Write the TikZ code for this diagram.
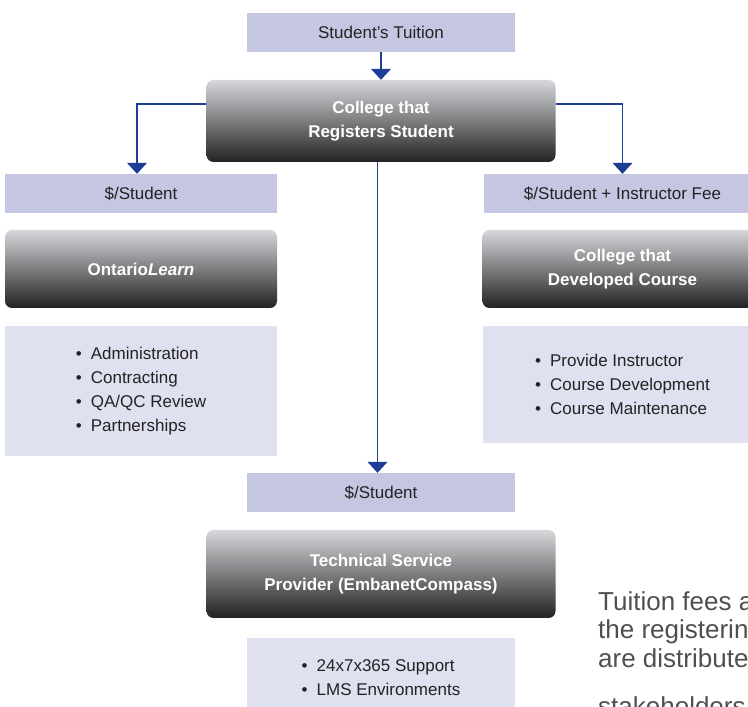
\documentclass[tikz,border=0pt]{standalone}
\usepackage{fontspec}
\setmainfont{Liberation Sans}
\usetikzlibrary{positioning,arrows.meta}

\definecolor{feebox}{RGB}{197,198,226}
\definecolor{listbox}{RGB}{223,224,240}
\definecolor{flowblue}{RGB}{30,62,150}
\definecolor{boxtop}{RGB}{214,215,218}
\definecolor{boxbot}{RGB}{34,34,36}
\definecolor{ink}{RGB}{35,35,35}

\begin{document}
\begin{tikzpicture}[x=1pt,y=1pt,on grid,
   font=\fontsize{17}{24}\selectfont,
   fee/.style={rectangle, fill=feebox, text=ink, minimum height=39pt, inner sep=0pt},
   party/.style={rectangle, rounded corners=7pt, top color=boxtop, bottom color=boxbot,
                 text=white, font=\fontsize{17}{24}\selectfont\bfseries, align=center,
                 minimum height=78pt, inner sep=0pt},
   duties/.style={rectangle, fill=listbox, text=ink, align=left, inner sep=0pt},
   flow/.style={draw=flowblue, line width=1.2pt, -{Triangle[width=20pt,length=11pt]}}]
   \useasboundingbox (0,0) rectangle (748,707);
   \clip (0,0) rectangle (748,707);

   \node[fee, minimum width=268pt] (tuition) at (381,674.5) {Student’s Tuition};
   \node[party, minimum width=349pt, minimum height=82pt] (reg) [below=88.5pt of tuition] {College that\\Registers Student};

   % left branch
   \node[fee, minimum width=272pt] (fee1) [below left=72.5pt and 240pt of reg] {\$/Student};
   \node[party, minimum width=272pt] (ol) [below=75.5pt of fee1] {Ontario\textit{Learn}};
   \node[duties, minimum width=272pt, minimum height=130pt] (list1) [below=122pt of ol]
      {\textbullet\hspace{9pt}Administration\\ \textbullet\hspace{9pt}Contracting\\
       \textbullet\hspace{9pt}QA/QC Review\\ \textbullet\hspace{9pt}Partnerships};

   % right branch
   \node[fee, minimum width=278pt] (fee2) [below right=72.5pt and 241.5pt of reg] {\$/Student + Instructor Fee};
   \node[party, minimum width=280pt] (dev) [below=75.5pt of fee2] {College that\\Developed Course};
   \node[duties, minimum width=280pt, minimum height=117pt] (list2) [below=115.5pt of dev]
      {\textbullet\hspace{9pt}Provide Instructor\\ \textbullet\hspace{9pt}Course Development\\
       \textbullet\hspace{9pt}Course Maintenance};

   % middle branch
   \node[fee, minimum width=268pt] (fee3) [below=371.5pt of reg] {\$/Student};
   \node[party, minimum width=349pt, minimum height=88pt] (tsp) [below=81.5pt of fee3]
      {Technical Service\\Provider (EmbanetCompass)};
   \node[duties, minimum width=268pt, minimum height=80pt] (list3) [below=104pt of tsp]
      {\textbullet\hspace{9pt}24x7x365 Support\\ \textbullet\hspace{9pt}LMS Environments};

   \node[anchor=north west, align=left, inner sep=0pt, text=ink!80,
         font=\fontsize{26}{28.5}\selectfont] (note) at (598,116)
      {Tuition fees are\\the registering\\are distributed\\[20pt]stakeholders};

   \draw[flow] (tuition) -- (reg);
   \draw[flow] ([yshift=17pt]reg.west) -| ([xshift=-4pt]fee1.north);
   \draw[flow] ([yshift=17pt]reg.east) -| (fee2);
   \draw[flow] ([xshift=-3.5pt]reg.south) -- ([xshift=-3.5pt]fee3.north);
\end{tikzpicture}
\end{document}
